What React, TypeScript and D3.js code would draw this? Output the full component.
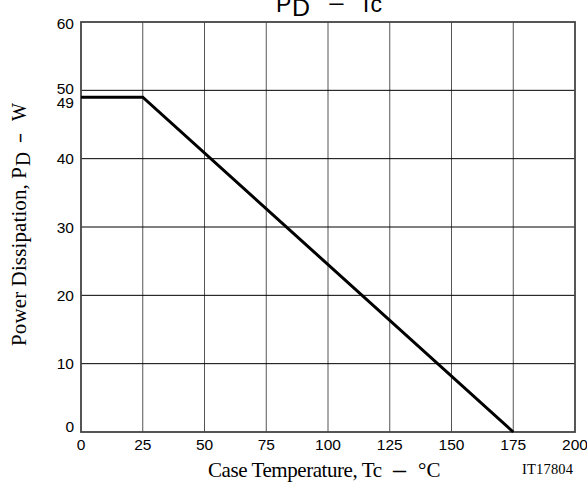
import React from "react";
import * as d3 from "d3";

const tempPoints = [0, 25, 175];
const powerPoints = [49, 49, 0];
const xTicks = [0, 25, 50, 75, 100, 125, 150, 175, 200];
const yTicks = [0, 10, 20, 30, 40, 50, 60];
const yExtraTicks = [49];

const W = 587;
const H = 483;
const M = { left: 81, right: 12, top: 22, bottom: 51 };

export default function App() {
  const x = d3.scaleLinear().domain([0, 200]).range([M.left, W - M.right]);
  const y = d3.scaleLinear().domain([0, 60]).range([H - M.bottom, M.top]);
  const line = d3
    .line<number>()
    .x((_, i) => x(tempPoints[i]))
    .y((d) => y(d));
  const sans = "Liberation Sans, Arial, Helvetica, sans-serif";
  const serif = "Liberation Serif, Times New Roman, serif";
  return (
    <svg
      width={W}
      height={H}
      style={{ position: "absolute", left: 0, top: 0, background: "#fff" }}
    >
      {/* vertical grid */}
      {xTicks.slice(1, -1).map((t) => (
        <line
          key={"vx" + t}
          x1={x(t)}
          x2={x(t)}
          y1={y(60)}
          y2={y(0)}
          stroke="#555"
          strokeWidth={1}
        />
      ))}
      {/* horizontal grid */}
      {yTicks.slice(1, -1).map((t) => (
        <line
          key={"hy" + t}
          x1={x(0)}
          x2={x(200)}
          y1={y(t)}
          y2={y(t)}
          stroke="#000"
          strokeWidth={1}
        />
      ))}
      {/* frame */}
      <rect
        x={x(0)}
        y={y(60)}
        width={x(200) - x(0)}
        height={y(0) - y(60)}
        fill="none"
        stroke="#444"
        strokeWidth={1.8}
      />
      {/* data line */}
      <path
        d={line(powerPoints) || ""}
        fill="none"
        stroke="#000"
        strokeWidth={3}
        strokeLinejoin="miter"
      />
      {/* x tick labels */}
      {xTicks.map((t) => (
        <text
          key={"xl" + t}
          x={x(t)}
          y={y(0) + 18}
          textAnchor="middle"
          fontFamily={sans}
          fontSize={15.5}
          fill="#000"
        >
          {t}
        </text>
      ))}
      {/* y tick labels */}
      {yTicks.map((t) => (
        <text
          key={"yl" + t}
          x={x(0) - 7}
          y={y(t) + (t === 0 ? 0 : t === 60 ? 7 : t === 50 ? 4 : 5.5)}
          textAnchor="end"
          fontFamily={sans}
          fontSize={15.5}
          fill="#000"
        >
          {t}
        </text>
      ))}
      {yExtraTicks.map((t) => (
        <text
          key={"ye" + t}
          x={x(0) - 7}
          y={y(t) + 10.5}
          textAnchor="end"
          fontFamily={sans}
          fontSize={15.5}
          fill="#000"
        >
          {t}
        </text>
      ))}
      {/* title */}
      <g fontFamily={sans} fill="#000" fontSize={23}>
        <text x={276} y={12}>P</text>
        <text x={292} y={16} textLength={18} lengthAdjust="spacingAndGlyphs">
          D
        </text>
        <text x={328} y={12} textLength={17} lengthAdjust="spacingAndGlyphs">
          −
        </text>
        <text x={359} y={12} textLength={23} lengthAdjust="spacingAndGlyphs">
          Tc
        </text>
      </g>
      {/* x axis title */}
      <g fontFamily={serif} fill="#000" fontSize={21}>
        <text x={208} y={477} textLength={174} lengthAdjust="spacing">
          Case Temperature, Tc
        </text>
        <text
          x={393}
          y={477}
          fontWeight="bold"
          textLength={13}
          lengthAdjust="spacingAndGlyphs"
        >
          –
        </text>
        <text x={418} y={477}>
          °C
        </text>
      </g>
      <text
        x={522}
        y={474}
        fontFamily={serif}
        fontSize={14.5}
        fill="#000"
        textLength={51}
        lengthAdjust="spacing"
      >
        IT17804
      </text>
      {/* y axis title */}
      <g transform="translate(26,0) rotate(-90)" fontFamily={serif} fill="#000" fontSize={21}>
        <text x={-346} y={0} textLength={179} lengthAdjust="spacing">
          Power Dissipation, P
        </text>
        <text x={-166} y={4} textLength={14} lengthAdjust="spacingAndGlyphs">
          D
        </text>
        <text
          x={-142}
          y={0}
          fontWeight="bold"
          textLength={8}
          lengthAdjust="spacingAndGlyphs"
        >
          –
        </text>
        <text x={-121} y={0} textLength={18} lengthAdjust="spacingAndGlyphs">
          W
        </text>
      </g>
    </svg>
  );
}
